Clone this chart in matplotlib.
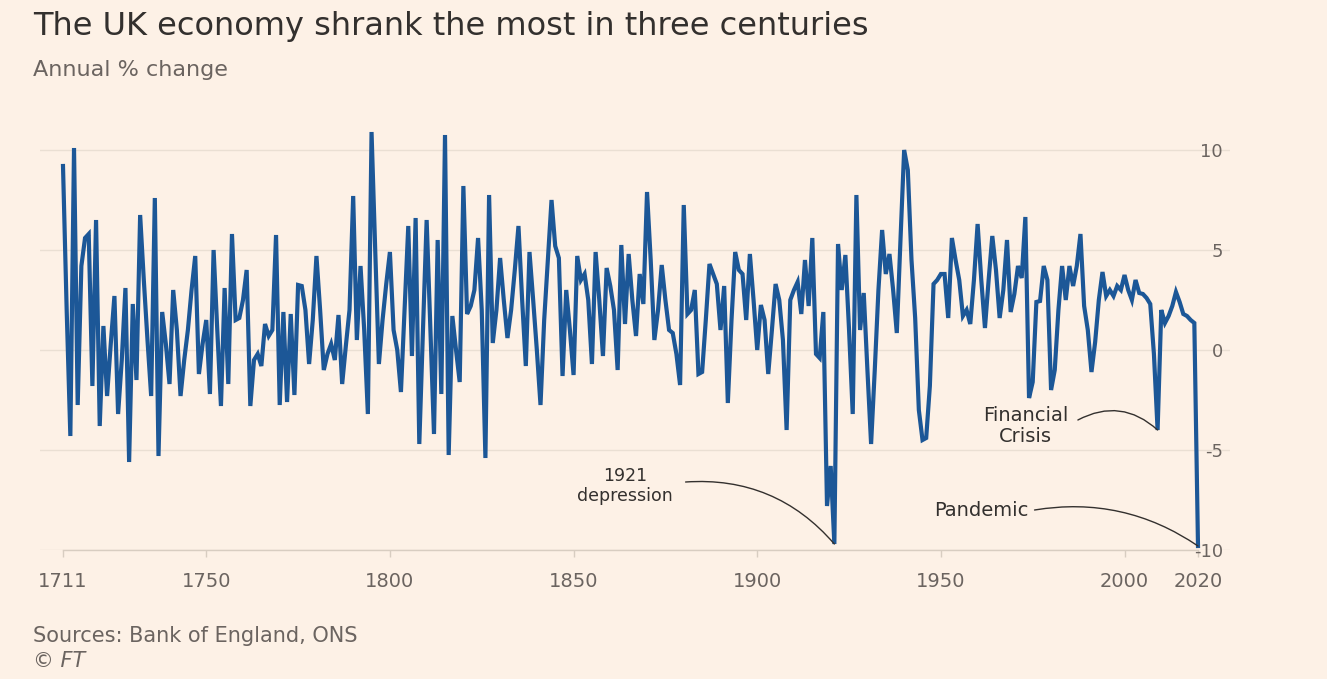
import numpy as np
import matplotlib
matplotlib.use("Agg")
import matplotlib.pyplot as plt

# Annual % change in UK GDP, 1711-2020
years = np.arange(1711, 2021)
growth = [
    9.2, 2.0, -4.3, 10.1, -2.75, 4.2, 5.6, 5.8, -1.8, 6.5,
    -3.8, 1.2, -2.3, 0.3, 2.7, -3.2, -0.5, 3.1, -5.6, 2.3,
    -1.5, 6.75, 3.5, 0.5, -2.3, 7.6, -5.3, 1.9, 0.3, -1.7,
    3.0, 1.0, -2.3, -0.5, 1.0, 3.0, 4.7, -1.2, 0.3, 1.5,
    -2.2, 5.0, 1.0, -2.8, 3.1, -1.7, 5.8, 1.5, 1.6, 2.5,
    4.0, -2.8, -0.5, -0.2, -0.8, 1.3, 0.7, 1.0, 5.75, -2.75,
    1.9, -2.6, 1.8, -2.25, 3.25, 3.2, 2.0, -0.7, 1.5, 4.7,
    2.0, -1.0, -0.2, 0.3, -0.5, 1.75, -1.7, 0.2, 2.0, 7.7,
    0.5, 4.2, 1.0, -3.2, 10.9, 5.0, -0.7, 1.5, 3.3, 4.9,
    1.0, 0.0, -2.1, 2.0, 6.2, -0.3, 6.6, -4.7, 1.0, 6.5,
    1.2, -4.2, 5.5, -2.2, 10.75, -5.25, 1.7, 0.0, -1.6, 8.2,
    1.8, 2.2, 3.0, 5.6, 2.0, -5.4, 7.75, 0.35, 2.0, 4.6,
    2.5, 0.6, 2.0, 4.0, 6.2, 2.5, -0.8, 4.9, 2.5, 0.0,
    -2.75, 1.5, 4.5, 7.5, 5.2, 4.6, -1.3, 3.0, 1.0, -1.25,
    4.7, 3.5, 3.8, 2.5, -0.7, 4.9, 2.5, -0.3, 4.1, 3.2,
    2.0, -1.0, 5.25, 1.3, 4.8, 2.5, 0.7, 3.8, 2.3, 7.9,
    4.5, 0.5, 2.0, 4.25, 2.5, 1.0, 0.85, -0.2, -1.75, 7.25,
    1.8, 2.0, 3.0, -1.2, -1.1, 1.5, 4.3, 3.8, 3.3, 1.0,
    3.2, -2.65, 1.5, 4.9, 4.0, 3.8, 1.5, 4.8, 2.5, 0.0,
    2.25, 1.5, -1.2, 1.0, 3.3, 2.5, 0.5, -4.0, 2.5, 3.0,
    3.4, 1.8, 4.5, 2.2, 5.6, -0.2, -0.4, 1.9, -7.8, -5.8,
    -9.7, 5.3, 3.0, 4.75, 1.0, -3.2, 7.75, 1.0, 2.85, -1.0,
    -4.7, -1.0, 3.0, 6.0, 3.8, 4.8, 3.0, 0.85, 5.5, 10.0,
    9.0, 4.5, 1.6, -3.0, -4.5, -4.4, -1.8, 3.3, 3.5, 3.8,
    3.8, 1.6, 5.6, 4.5, 3.5, 1.7, 2.0, 1.3, 3.5, 6.3,
    3.5, 1.1, 3.5, 5.7, 4.0, 1.6, 3.0, 5.5, 1.9, 2.8,
    4.2, 3.6, 6.65, -2.4, -1.6, 2.4, 2.45, 4.2, 3.5, -2.0,
    -1.0, 2.0, 4.2, 2.5, 4.2, 3.2, 4.2, 5.8, 2.2, 1.0,
    -1.1, 0.4, 2.5, 3.9, 2.7, 3.0, 2.7, 3.2, 3.0, 3.75,
    3.0, 2.5, 3.5, 2.85, 2.8, 2.6, 2.3, -0.2, -4.0, 2.0,
    1.35, 1.7, 2.2, 2.9, 2.4, 1.8, 1.7, 1.5, 1.35, -9.8,
]
assert len(growth) == len(years)

xtick_years = [1711, 1750, 1800, 1850, 1900, 1950, 2000, 2020]
ytick_values = [10, 5, 0, -5, -10]

BG = "#fdf1e6"
LINE = "#1c5797"
INK = "#33302e"
MUTED = "#6b6460"
GRID = "#eadfd3"
AXIS = "#d8cdc1"

plt.rcParams["font.family"] = ["DejaVu Sans"]

fig = plt.figure(figsize=(13.27, 6.79), dpi=100, facecolor=BG)
ax = fig.add_axes([40 / 1327, 1 - 550 / 679, 1190 / 1327, 420 / 679])
ax.set_facecolor(BG)

ax.plot(years, growth, color=LINE, lw=3.0, solid_joinstyle="miter", zorder=3)

x0 = 1711 - 23 / 3.673
x1 = 2020 + 32 / 3.673
ax.set_xlim(x0, x1)
ax.set_ylim(-10, 11)

for s in ["top", "left", "right"]:
    ax.spines[s].set_visible(False)
ax.spines["bottom"].set_color(AXIS)
ax.spines["bottom"].set_linewidth(1.0)
ax.spines["bottom"].set_bounds(1711, 2020)

ax.set_yticks(ytick_values)
ax.set_yticklabels([str(v) for v in ytick_values])
ax.yaxis.tick_right()
ax.tick_params(axis="y", length=0, pad=-5, labelsize=13, labelcolor=MUTED)
for lab in ax.get_yticklabels():
    lab.set_horizontalalignment("right")
ax.grid(axis="y", color=GRID, lw=1.0, zorder=0)

ax.set_xticks(xtick_years)
ax.set_xticklabels([str(y) for y in xtick_years])
ax.tick_params(axis="x", length=5, width=1, color=AXIS, pad=11,
               labelsize=14, labelcolor=MUTED)

# Annotations
line_kw = dict(arrowstyle="-", color=INK, lw=1.0, shrinkA=0, shrinkB=0)
ax.text(1864, -6.8, "1921\ndepression", ha="center", va="center",
        fontsize=12.5, color=INK, linespacing=1.2)
ax.annotate("", xy=(1921, -9.7), xytext=(1880.5, -6.6),
            arrowprops=dict(connectionstyle="arc3,rad=-0.25", **line_kw))

ax.text(1973, -3.8, "Financial\nCrisis", ha="center", va="center",
        fontsize=14, color=INK, linespacing=1.1)
ax.annotate("", xy=(2009, -4.0), xytext=(1987.3, -3.5),
            arrowprops=dict(connectionstyle="arc3,rad=-0.35", **line_kw))

ax.text(1961, -8.05, "Pandemic", ha="center", va="center",
        fontsize=14, color=INK)
ax.annotate("", xy=(2020, -9.8), xytext=(1975.5, -8.0),
            arrowprops=dict(connectionstyle="arc3,rad=-0.2", **line_kw))

# Titles and footer
fig.text(33 / 1327, 1 - 27 / 679, "The UK economy shrank the most in three centuries",
         ha="left", va="center", fontsize=23, color=INK)
fig.text(33 / 1327, 1 - 70 / 679, "Annual % change", ha="left", va="center",
         fontsize=16, color=MUTED)
fig.text(33 / 1327, 1 - 636 / 679, "Sources: Bank of England, ONS", ha="left",
         va="center", fontsize=15, color=MUTED)
fig.text(33 / 1327, 1 - 661 / 679, "© FT", ha="left", va="center",
         fontsize=15, color=MUTED, style="italic")

fig.savefig("out.png", dpi=100, facecolor=BG)
